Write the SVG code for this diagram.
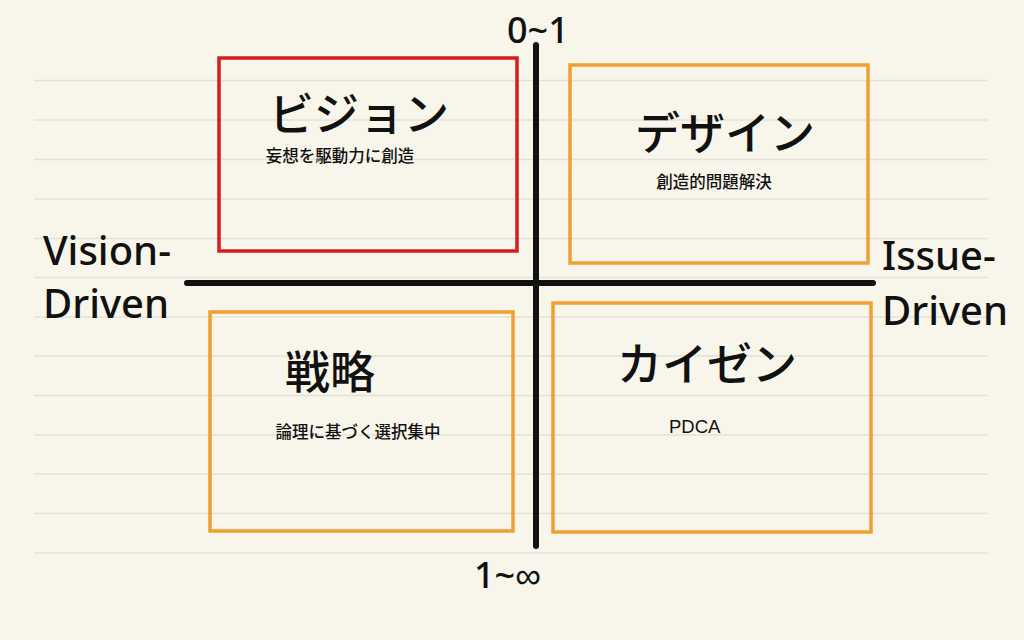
<svg xmlns="http://www.w3.org/2000/svg" width="1024" height="640" viewBox="0 0 1024 640">
<style>
.rule{stroke:#e3e1d9;stroke-width:1.5}
.box{fill:none;stroke-width:3.5}
.red{stroke:#d41e1e}
.orange{stroke:#f0a030}
.axis{stroke:#111;stroke-width:6;stroke-linecap:round}
.jp{font-family:"Noto Sans CJK JP","Noto Sans",sans-serif;fill:#111;font-weight:500}
.title{font-size:45px;text-anchor:middle}
.sub{font-size:16.5px;text-anchor:middle}
.lat{font-family:"Noto Sans","Liberation Sans",sans-serif;fill:#111;font-weight:500}
</style>
<rect width="1024" height="640" fill="#f8f6eb"/>
<g id="ruled-lines">
<line class="rule" x1="34" y1="80.5" x2="988" y2="80.5"/>
<line class="rule" x1="34" y1="120" x2="988" y2="120"/>
<line class="rule" x1="34" y1="159.5" x2="988" y2="159.5"/>
<line class="rule" x1="34" y1="199" x2="988" y2="199"/>
<line class="rule" x1="34" y1="238.5" x2="988" y2="238.5"/>
<line class="rule" x1="34" y1="277.5" x2="988" y2="277.5"/>
<line class="rule" x1="34" y1="317" x2="988" y2="317"/>
<line class="rule" x1="34" y1="356" x2="988" y2="356"/>
<line class="rule" x1="34" y1="395.5" x2="988" y2="395.5"/>
<line class="rule" x1="34" y1="435" x2="988" y2="435"/>
<line class="rule" x1="34" y1="474" x2="988" y2="474"/>
<line class="rule" x1="34" y1="513.5" x2="988" y2="513.5"/>
<line class="rule" x1="34" y1="553" x2="988" y2="553"/>
</g>
<g id="axes">
<line class="axis" x1="536" y1="45" x2="536" y2="546"/>
<line class="axis" x1="187" y1="283" x2="873" y2="283"/>
</g>
<g id="axis-labels">
<text class="lat" x="507" y="43" font-size="36">0~1</text>
<text class="lat" x="474" y="588" font-size="36">1~∞</text>
<text class="lat" x="43" y="265" font-size="40">Vision-</text>
<text class="lat" x="43" y="318" font-size="40">Driven</text>
<text class="lat" x="882" y="270" font-size="40">Issue-</text>
<text class="lat" x="882" y="325" font-size="40">Driven</text>
</g>
<g id="vision">
<rect class="box red" x="219" y="58" width="298" height="193"/>
<text class="jp title" x="359" y="131">ビジョン</text>
<text class="jp sub" x="340" y="162">妄想を駆動力に創造</text>
</g>
<g id="design">
<rect class="box orange" x="570" y="65" width="298" height="198"/>
<text class="jp title" x="725" y="150">デザイン</text>
<text class="jp sub" x="714" y="188">創造的問題解決</text>
</g>
<g id="strategy">
<rect class="box orange" x="210" y="312" width="303" height="219"/>
<text class="jp title" x="330" y="389">戦略</text>
<text class="jp sub" x="358" y="438">論理に基づく選択集中</text>
</g>
<g id="kaizen">
<rect class="box orange" x="553" y="303" width="318" height="229"/>
<text class="jp title" x="707" y="381">カイゼン</text>
<text x="669" y="433" font-size="18.5" font-family="'Liberation Sans',Arial,sans-serif" fill="#111">PDCA</text>
</g>
</svg>
